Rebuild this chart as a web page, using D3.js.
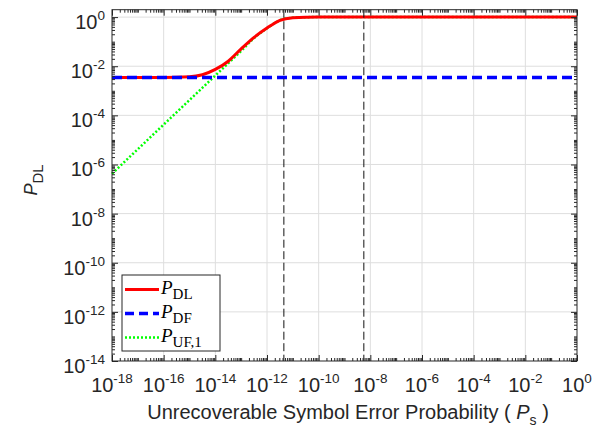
<!DOCTYPE html>
<html>
<head>
<meta charset="utf-8">
<script src="https://cdn.jsdelivr.net/npm/d3@7"></script>
<style>
  body { margin: 0; background: #fff; }
  text { font-family: "Liberation Sans", Arial, sans-serif; fill: #262626; }
</style>
</head>
<body>
<svg id="chart" width="601" height="435"></svg>
<script>
// values
// P_DL (red)
var psDL = [1e-18, 1e-17, 1e-16, 1e-15, 3.16e-15, 1e-14, 3.16e-14, 1e-13, 3.16e-13, 1e-12, 3.16e-12, 1e-11, 3.16e-11, 1e-10, 1e-8, 1e-4, 1];
var pDL  = [3.5e-3, 3.5e-3, 3.5e-3, 3.7e-3, 4.5e-3, 7.4e-3, 0.016, 0.051, 0.15, 0.36, 0.74, 0.95, 0.995, 1, 1, 1, 1];
// P_DF (blue)
var psDF = [1e-18, 1];
var pDF  = [3.5e-3, 3.5e-3];
// P_UF,1 (green)
var psUF = [1e-18, 1e-17, 1e-16, 1e-15, 1e-14, 1e-13, 3.16e-13, 1e-12, 3.16e-12, 1e-11, 3.16e-11, 1e-10, 1];
var pUF  = [4.2e-7, 4.2e-6, 4.2e-5, 4.2e-4, 4.2e-3, 0.042, 0.14, 0.35, 0.74, 0.95, 0.995, 1, 1];
// vertical reference lines
var vLines = [4.5e-12, 5.6e-9];

// tick exponents
var xTickExp = [-18, -16, -14, -12, -10, -8, -6, -4, -2, 0];
var yTickExp = [-14, -12, -10, -8, -6, -4, -2, 0];

var margin = {top: 9.7, right: 24, bottom: 74, left: 112},
  width  = 601 - margin.left - margin.right,
  height = 435 - margin.top - margin.bottom;

var svg = d3.select("#chart");
var g = svg.append("g")
  .attr("transform", "translate(" + margin.left + "," + margin.top + ")");

var x = d3.scaleLog().domain([1e-18, 1]).range([0, width]);
var y = d3.scaleLog().domain([1e-14, 2]).range([height, 0]);

function minorTicks(lo, hi) {
  var out = [];
  for (var n = lo; n < hi; n++) {
    for (var k = 2; k <= 9; k++) out.push(k * Math.pow(10, n));
  }
  return out;
}
var xMinor = minorTicks(-18, 0).concat(d3.range(-17, 0, 2).map(function(e) { return Math.pow(10, e); }));
var yMinor = minorTicks(-14, 1).filter(function(v) { return v < 2; })
  .concat(d3.range(-13, 0, 2).map(function(e) { return Math.pow(10, e); }));
var xMajor = xTickExp.map(function(e) { return Math.pow(10, e); });
var yMajor = yTickExp.map(function(e) { return Math.pow(10, e); });

// grid
g.append("g").selectAll("line")
  .data(xMajor.slice(1, -1)).enter().append("line")
  .attr("x1", function(d) { return x(d); }).attr("x2", function(d) { return x(d); })
  .attr("y1", 0).attr("y2", height)
  .attr("stroke", "#dedede").attr("stroke-width", 1);
g.append("g").selectAll("line")
  .data(yMajor.slice(1)).enter().append("line")
  .attr("y1", function(d) { return y(d); }).attr("y2", function(d) { return y(d); })
  .attr("x1", 0).attr("x2", width)
  .attr("stroke", "#dedede").attr("stroke-width", 1);

// curves
var line = d3.line()
  .x(function(d) { return x(d[0]); })
  .y(function(d) { return y(d[1]); })
  .curve(d3.curveMonotoneX);

g.append("path")
  .datum(d3.zip(psUF, pUF))
  .attr("d", line)
  .attr("fill", "none").attr("stroke", "#00ff00")
  .attr("stroke-width", 2.5).attr("stroke-dasharray", "2,2");

g.append("path")
  .datum(d3.zip(psDL, pDL))
  .attr("d", line)
  .attr("fill", "none").attr("stroke", "#ff0000")
  .attr("stroke-width", 3);

g.append("path")
  .datum(d3.zip(psDF, pDF))
  .attr("d", line)
  .attr("fill", "none").attr("stroke", "#0000ff")
  .attr("stroke-width", 3.5).attr("stroke-dasharray", "10,5");

g.selectAll(".vline")
  .data(vLines).enter().append("line")
  .attr("class", "vline")
  .attr("x1", function(d) { return x(d); }).attr("x2", function(d) { return x(d); })
  .attr("y1", 0).attr("y2", height)
  .attr("stroke", "#111").attr("stroke-width", 1).attr("stroke-dasharray", "8,3.5");

// axes (ticks inward on all four sides)
function tickAxis(axis, vals, size) {
  return axis.tickValues(vals).tickSize(-size).tickFormat("");
}
[[xMinor, 3], [xMajor, 6]].forEach(function(t) {
  g.append("g").attr("transform", "translate(0," + height + ")")
    .call(tickAxis(d3.axisBottom(x), t[0], t[1]));
  g.append("g").call(tickAxis(d3.axisTop(x), t[0], t[1]));
});
[[yMinor, 3], [yMajor, 6]].forEach(function(t) {
  g.append("g").call(tickAxis(d3.axisLeft(y), t[0], t[1]));
  g.append("g").attr("transform", "translate(" + width + ",0)")
    .call(tickAxis(d3.axisRight(y), t[0], t[1]));
});
g.selectAll(".domain").remove();
g.selectAll(".tick line").attr("stroke", "#262626");

g.append("rect")
  .attr("width", width).attr("height", height)
  .attr("fill", "none").attr("stroke", "#262626").attr("stroke-width", 1);

// tick labels
function sci(sel, e) {
  sel.append("tspan").text("10");
  sel.append("tspan").attr("dy", -9).attr("font-size", 13.5).text(e);
}
g.selectAll(".xlab")
  .data(xTickExp).enter().append("text")
  .attr("class", "xlab")
  .attr("x", function(d) { return x(Math.pow(10, d)); })
  .attr("y", height + 31)
  .attr("text-anchor", "middle")
  .attr("font-size", 20)
  .each(function(d) { sci(d3.select(this), d); });

g.selectAll(".ylab")
  .data(yTickExp).enter().append("text")
  .attr("class", "ylab")
  .attr("x", -7)
  .attr("y", function(d) { return y(Math.pow(10, d)) + 12; })
  .attr("text-anchor", "end")
  .attr("font-size", 20)
  .each(function(d) { sci(d3.select(this), d); });

// axis titles
var xt = svg.append("text")
  .attr("x", 348).attr("y", 419)
  .attr("text-anchor", "middle")
  .attr("font-size", 20);
xt.append("tspan").text("Unrecoverable Symbol Error Probability ( ");
xt.append("tspan").attr("font-style", "italic").text("P");
xt.append("tspan").attr("font-size", 14).attr("dy", 6).text("s");
xt.append("tspan").attr("dy", -6).text(" )");

var yt = svg.append("text")
  .attr("transform", "translate(37,180) rotate(-90)")
  .attr("text-anchor", "middle")
  .attr("font-size", 18);
yt.append("tspan").attr("font-style", "italic").text("P");
yt.append("tspan").attr("font-size", 15).attr("dy", 6).text("DL");

// legend
var legendItems = [
  {sub: "DL", color: "#ff0000", width: 3, dash: null},
  {sub: "DF", color: "#0000ff", width: 3.5, dash: "9,5"},
  {sub: "UF,1", color: "#00ff00", width: 2.5, dash: "2,2"}
];
var lg = svg.append("g").attr("transform", "translate(122,275)");
lg.append("rect")
  .attr("width", 98).attr("height", 76)
  .attr("fill", "#fff").attr("stroke", "#262626").attr("stroke-width", 1);
var rows = lg.selectAll(".row").data(legendItems).enter().append("g")
  .attr("class", "row")
  .attr("transform", function(d, i) { return "translate(0," + (14.5 + i * 24) + ")"; });
rows.append("line")
  .attr("x1", 3).attr("x2", 37)
  .attr("stroke", function(d) { return d.color; })
  .attr("stroke-width", function(d) { return d.width; })
  .attr("stroke-dasharray", function(d) { return d.dash; });
var lt = rows.append("text")
  .attr("x", 39).attr("y", 4)
  .attr("font-size", 19)
  .style("font-family", "'Liberation Serif', 'DejaVu Serif', serif")
  .style("fill", "#000");
lt.append("tspan").attr("font-style", "italic").text("P");
lt.append("tspan").attr("font-size", 15).attr("dy", 5).text(function(d) { return d.sub; });
</script>
</body>
</html>
